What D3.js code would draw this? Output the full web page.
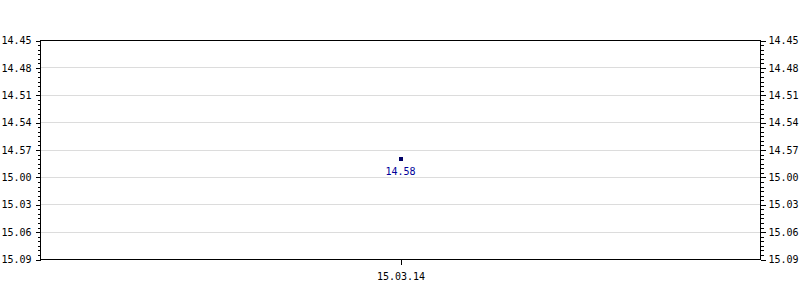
<!DOCTYPE html>
<html>
  <head>
    <title>kurs chart</title>
    <script src="https://cdn.jsdelivr.net/npm/d3@7/dist/d3.min.js" charset="utf-8"></script>
<style>
body { margin: 0; background: #fff; }
text { font-family: "DejaVu Sans Mono", monospace; font-size: 10px; fill: #000; }
.grid line { stroke: #dcdcdc; shape-rendering: crispEdges; }
.axis path, .axis line { stroke: #000; shape-rendering: crispEdges; }
.frame { fill: none; stroke: #000; shape-rendering: crispEdges; }
</style>
  </head>
  <body>
    <svg></svg>
    <script>
      var width = 800;
      var height = 300;

      var dates = ["15.03.14"];
      var values = [14.58];
      var valueLabels = ["14.58"];
      var yTicks = [14.45, 14.48, 14.51, 14.54, 14.57, 14.60, 14.63, 14.66, 14.69];
      var yTickLabels = ["14.45", "14.48", "14.51", "14.54", "14.57", "15.00", "15.03", "15.06", "15.09"];
      var yMinorStep = 0.005;

      var plotL = 40.5, plotR = 760.5, plotT = 40.5, plotB = 259.5;

      var svg = d3.select("svg").attr("width", width).attr("height", height);

      var x = d3.scalePoint().domain(dates).range([plotL, plotR]).padding(0.5);
      var y = d3.scaleLinear().domain([yTicks[0], yTicks[yTicks.length - 1]]).range([plotT, plotB]);

      var minor = d3.range(yTicks[0], yTicks[yTicks.length - 1] + 0.0001, yMinorStep);

      // grid
      svg.append("g").attr("class", "grid")
        .selectAll("line").data(yTicks.slice(1, -1))
        .enter().append("line")
          .attr("x1", plotL).attr("x2", plotR)
          .attr("y1", function(d){ return y(d); })
          .attr("y2", function(d){ return y(d); });

      var fmt = function(d, i){ return yTickLabels[i]; };

      // minor ticks
      svg.append("g").attr("class", "axis")
        .attr("transform", "translate(" + plotL + ",0)")
        .call(d3.axisLeft(y).tickValues(minor).tickSize(3).tickFormat(""))
        .select(".domain").remove();
      svg.append("g").attr("class", "axis")
        .attr("transform", "translate(" + plotR + ",0)")
        .call(d3.axisRight(y).tickValues(minor).tickSize(3).tickFormat(""))
        .select(".domain").remove();

      // major ticks
      svg.append("g").attr("class", "axis")
        .attr("transform", "translate(" + plotL + ",0)")
        .call(d3.axisLeft(y).tickValues(yTicks).tickSize(5).tickPadding(4).tickFormat(fmt))
        .select(".domain").remove();

      svg.append("g").attr("class", "axis")
        .attr("transform", "translate(" + plotR + ",0)")
        .call(d3.axisRight(y).tickValues(yTicks).tickSize(5).tickPadding(3).tickFormat(fmt))
        .select(".domain").remove();

      svg.append("g").attr("class", "axis")
        .attr("transform", "translate(0," + plotB + ")")
        .call(d3.axisBottom(x).tickSize(5).tickPadding(8))
        .select(".domain").remove();

      svg.selectAll(".axis").attr("font-family", null).attr("font-size", null);

      svg.append("rect").attr("class", "frame")
        .attr("x", plotL).attr("y", plotT)
        .attr("width", plotR - plotL).attr("height", plotB - plotT);

      // point
      svg.selectAll(".pt").data(values).enter().append("rect")
        .attr("class", "pt")
        .attr("x", function(d, i){ return Math.round(x(dates[i])) - 2; })
        .attr("y", function(d){ return Math.round(y(d)) - 2; })
        .attr("width", 4).attr("height", 4)
        .attr("fill", "#000066");

      svg.selectAll(".pl").data(values).enter().append("text")
        .attr("class", "pl")
        .attr("x", function(d, i){ return x(dates[i]); })
        .attr("y", function(d){ return y(d) + 16; })
        .attr("text-anchor", "middle")
        .style("fill", "#000099")
        .text(function(d, i){ return valueLabels[i]; });
    </script>
  </body>
</html>
